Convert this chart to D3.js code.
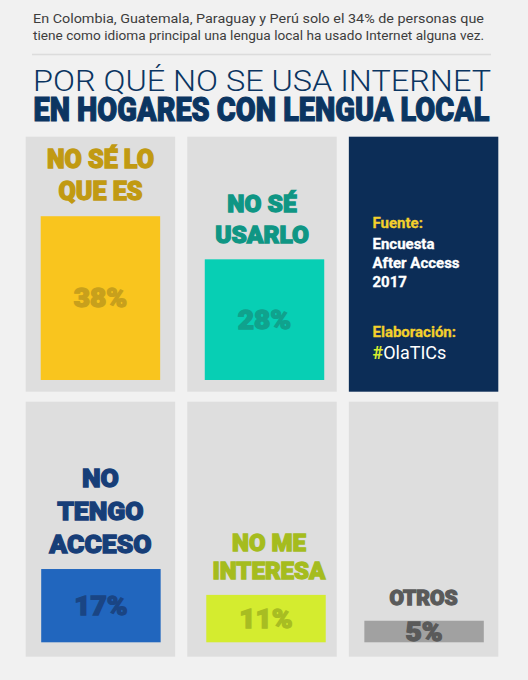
<html>
<head>
<meta charset="utf-8">
<style>
  body { margin: 0; background: #f1f1f1; }
  svg { display: block; }
  text { font-family: Roboto, "Noto Sans", sans-serif; }
</style>
</head>
<body>
<script src="https://d3js.org/d3.v7.min.js"></script>
<script>
var reasons = ["NO SÉ LO QUE ES", "NO SÉ USARLO", "NO TENGO ACCESO", "NO ME INTERESA", "OTROS"];
var labelLines = [["NO SÉ LO", "QUE ES"], ["NO SÉ", "USARLO"], ["NO", "TENGO", "ACCESO"], ["NO ME", "INTERESA"], ["OTROS"]];
var values = [38, 28, 17, 11, 5];
// where each reason sits: [row, column]
var cells = [[0, 0], [0, 1], [1, 0], [1, 1], [1, 2]];

// styles
var barColors = ["#f9c51e", "#07cfb4", "#2166be", "#d4ec2f", "#a1a1a1"];
var labelColors = ["#c19a12", "#0f9684", "#173e78", "#a5bc1e", "#5a5a5a"];
var pctColors = ["#c8a01c", "#10a28d", "#1a4584", "#a8bd22", "#5a5a5a"];
var labelSizes = [25, 24.5, 26.5, 24, 21];
var labelLeading = [32, 31, 33, 28, 28];
var nudge = [0, 2.5, 0.5, 4, 0.5];      // the artwork is not perfectly centred
var labelNudge = [0, 0, 0, 7, 0];

var W = 528, H = 680;
var svg = d3.select("body").append("svg")
  .attr("width", W)
  .attr("height", H);

svg.append("rect").attr("width", W).attr("height", H).attr("fill", "#f1f1f1");

// intro text
var intro = ["En Colombia, Guatemala, Paraguay y Perú solo el 34% de personas que",
             "tiene como idioma principal una lengua local ha usado Internet alguna vez."];
svg.selectAll("text.intro").data(intro).enter()
  .append("text")
  .attr("class", "intro")
  .attr("x", 33)
  .attr("y", function(d, i) { return 23 + i * 17; })
  .attr("font-size", 12.5)
  .attr("fill", "#3d3d3d")
  .attr("textLength", 451)
  .attr("lengthAdjust", "spacingAndGlyphs")
  .text(function(d) { return d; });

svg.append("line")
  .attr("x1", 32).attr("x2", 491)
  .attr("y1", 54.5).attr("y2", 54.5)
  .attr("stroke", "#dcdcdc").attr("stroke-width", 1.5);

svg.append("text")
  .attr("x", 33).attr("y", 90.7)
  .attr("font-size", 29).attr("font-weight", 300)
  .attr("fill", "#0b3561")
  .attr("textLength", 458)
  .attr("lengthAdjust", "spacingAndGlyphs")
  .text("POR QUÉ NO SE USA INTERNET");

svg.append("text")
  .attr("x", 33.5).attr("y", 121.2)
  .attr("font-size", 34).attr("font-weight", 900)
  .attr("fill", "#0b3561")
  .attr("stroke", "#0b3561").attr("stroke-width", 1.2)
  .attr("textLength", 456)
  .attr("lengthAdjust", "spacingAndGlyphs")
  .text("EN HOGARES CON LENGUA LOCAL");

// grid of panels
var col = d3.scaleBand().domain([0, 1, 2]).range([25.7, 498.3]).paddingInner(0.075);
var rowTop = [136.7, 401.7];
var panelH = 255;
var baseY = [380, 642.3];
var inset = 15;

// bar height scale (percent -> px)
var h = d3.scaleLinear().domain([0, 100]).range([0, 431]);

// grey panels (all but the source box)
var panels = [[0, 0], [0, 1], [1, 0], [1, 1], [1, 2]];
svg.selectAll("rect.panel").data(panels).enter()
  .append("rect")
  .attr("class", "panel")
  .attr("x", function(d) { return col(d[1]); })
  .attr("y", function(d) { return rowTop[d[0]]; })
  .attr("width", col.bandwidth())
  .attr("height", panelH)
  .attr("fill", "#dedede");

// source box
var sx = col(2), sy = rowTop[0];
svg.append("rect")
  .attr("x", sx).attr("y", sy)
  .attr("width", col.bandwidth()).attr("height", panelH)
  .attr("fill", "#0c2d57");

var source = [
  {t: "Fuente:", y: 228.3, c: "#f3d02c"},
  {t: "Encuesta", y: 248.5, c: "#ffffff"},
  {t: "After Access", y: 267.5, c: "#ffffff"},
  {t: "2017", y: 286.5, c: "#ffffff"},
  {t: "Elaboración:", y: 336.7, c: "#f3d02c"}
];
svg.selectAll("text.src").data(source).enter()
  .append("text")
  .attr("class", "src")
  .attr("x", 372.5)
  .attr("y", function(d) { return d.y; })
  .attr("font-size", 15)
  .attr("font-weight", 700)
  .attr("fill", function(d) { return d.c; })
  .attr("stroke", function(d) { return d.c; })
  .attr("stroke-width", 0.3)
  .text(function(d) { return d.t; });

var tag = svg.append("text")
  .attr("x", 372.5).attr("y", 359)
  .attr("font-size", 18);
tag.append("tspan").attr("fill", "#d4ec2f").attr("font-weight", 700).text("#");
tag.append("tspan").attr("fill", "#ffffff").text("OlaTICs");

// bars
var g = svg.selectAll("g.reason").data(reasons).enter()
  .append("g").attr("class", "reason");

g.append("rect")
  .attr("x", function(d, i) { return col(cells[i][1]) + inset + nudge[i]; })
  .attr("y", function(d, i) { return baseY[cells[i][0]] - h(values[i]); })
  .attr("width", col.bandwidth() - 2 * inset)
  .attr("height", function(d, i) { return h(values[i]); })
  .attr("fill", function(d, i) { return barColors[i]; });

// percentages, centred in each bar
g.append("text")
  .attr("x", function(d, i) { return col(cells[i][1]) + col.bandwidth() / 2 + nudge[i]; })
  .attr("y", function(d, i) { return baseY[cells[i][0]] - h(values[i]) / 2; })
  .attr("dy", "0.35em")
  .attr("text-anchor", "middle")
  .attr("font-size", 26)
  .attr("font-weight", 900)
  .attr("fill", function(d, i) { return pctColors[i]; })
  .attr("stroke", function(d, i) { return pctColors[i]; })
  .attr("stroke-width", 1.3)
  .text(function(d, i) { return values[i] + "%"; })
  .each(function() {
    var w = this.getComputedTextLength();
    d3.select(this).attr("textLength", w * 1.08).attr("lengthAdjust", "spacingAndGlyphs");
  });

// category labels stacked above the bar
g.each(function(d, i) {
  var lines = labelLines[i];
  var cx = col(cells[i][1]) + col.bandwidth() / 2 + labelNudge[i];
  var bottom = baseY[cells[i][0]] - h(values[i]) - 16;
  d3.select(this).selectAll("text.lab").data(lines).enter()
    .append("text")
    .attr("class", "lab")
    .attr("x", cx)
    .attr("y", function(l, k) { return bottom - (lines.length - 1 - k) * labelLeading[i]; })
    .attr("text-anchor", "middle")
    .attr("font-size", labelSizes[i])
    .attr("font-weight", 900)
    .attr("fill", labelColors[i])
    .attr("stroke", labelColors[i])
    .attr("stroke-width", 1.3)
    .text(function(l) { return l; });
});
</script>
</body>
</html>
